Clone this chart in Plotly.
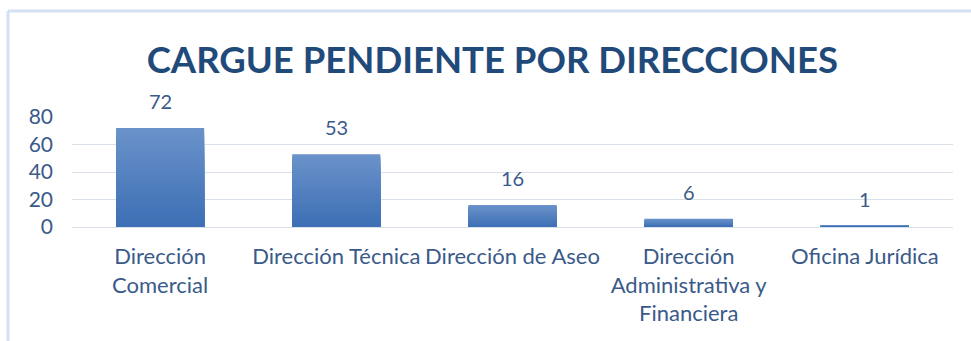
import plotly.graph_objects as go

# Pending uploads per directorate
categories = [
    "Dirección<br>Comercial",
    "Dirección Técnica",
    "Dirección de Aseo",
    "Dirección<br>Administrativa y<br>Financiera",
    "Oficina Jurídica",
]
values = [72, 53, 16, 6, 1]
y_ticks = [0, 20, 40, 60, 80]

TEXT = "#3A5A8A"
TITLE = "#1F4A7A"
GRID = "#D9E0EA"
FONT = "Lato"

W, H = 971, 341
ML, MR, MT, MB = 72, 18, 117, 114

fig = go.Figure()

# Vertical gradient on each bar: stacked overlays, light at the top, dark at the bottom
top_rgb = (106, 146, 202)
bot_rgb = (60, 110, 180)
steps = 28
for k in range(steps):
    f = k / steps
    c = tuple(round(t + (b - t) * f) for t, b in zip(top_rgb, bot_rgb))
    fig.add_trace(go.Bar(
        x=categories,
        y=[v * (1 - f) for v in values],
        marker=dict(color="rgb(%d,%d,%d)" % c, line=dict(width=0)),
        hoverinfo="skip",
        showlegend=False,
    ))

# Value labels above bars
for cat, v in zip(categories, values):
    fig.add_annotation(
        x=cat, y=v, text=str(v), showarrow=False,
        yanchor="bottom", yshift=13,
        font=dict(family=FONT, size=20, color=TEXT),
    )

# Light chart frame (left and top edges)
fx = (8 - ML) / (W - ML - MR)
fy = 1 + (MT - 11) / (H - MT - MB)
fig.add_shape(type="line", xref="paper", yref="paper",
              x0=fx, x1=fx, y0=-MB / (H - MT - MB) - 0.1, y1=fy,
              line=dict(color="#D3E1F3", width=3))
fig.add_shape(type="line", xref="paper", yref="paper",
              x0=fx, x1=1.1, y0=fy, y1=fy,
              line=dict(color="#D3E1F3", width=3))

fig.update_layout(
    width=W, height=H,
    margin=dict(l=ML, r=MR, t=MT, b=MB),
    barmode="overlay",
    bargap=0.5,
    plot_bgcolor="white",
    paper_bgcolor="white",
    title=dict(
        text="<b>CARGUE PENDIENTE POR DIRECCIONES</b>",
        x=0.507, xanchor="center", y=1 - 60 / H, yanchor="middle",
        font=dict(family=FONT, size=36.5, color=TITLE),
    ),
    font=dict(family=FONT, size=19, color=TEXT),
)
fig.update_xaxes(
    showgrid=False, showline=False, ticks="",
    ticklabelstandoff=14,
    tickfont=dict(family=FONT, size=22, color=TEXT),
)
fig.update_yaxes(
    range=[0, 80], tickvals=y_ticks,
    showgrid=True, gridcolor=GRID, gridwidth=1,
    zeroline=True, zerolinecolor=GRID, zerolinewidth=1,
    showline=False, ticks="", ticklabelstandoff=18,
    tickfont=dict(family=FONT, size=21, color=TEXT),
)

fig.write_html("out.html")
